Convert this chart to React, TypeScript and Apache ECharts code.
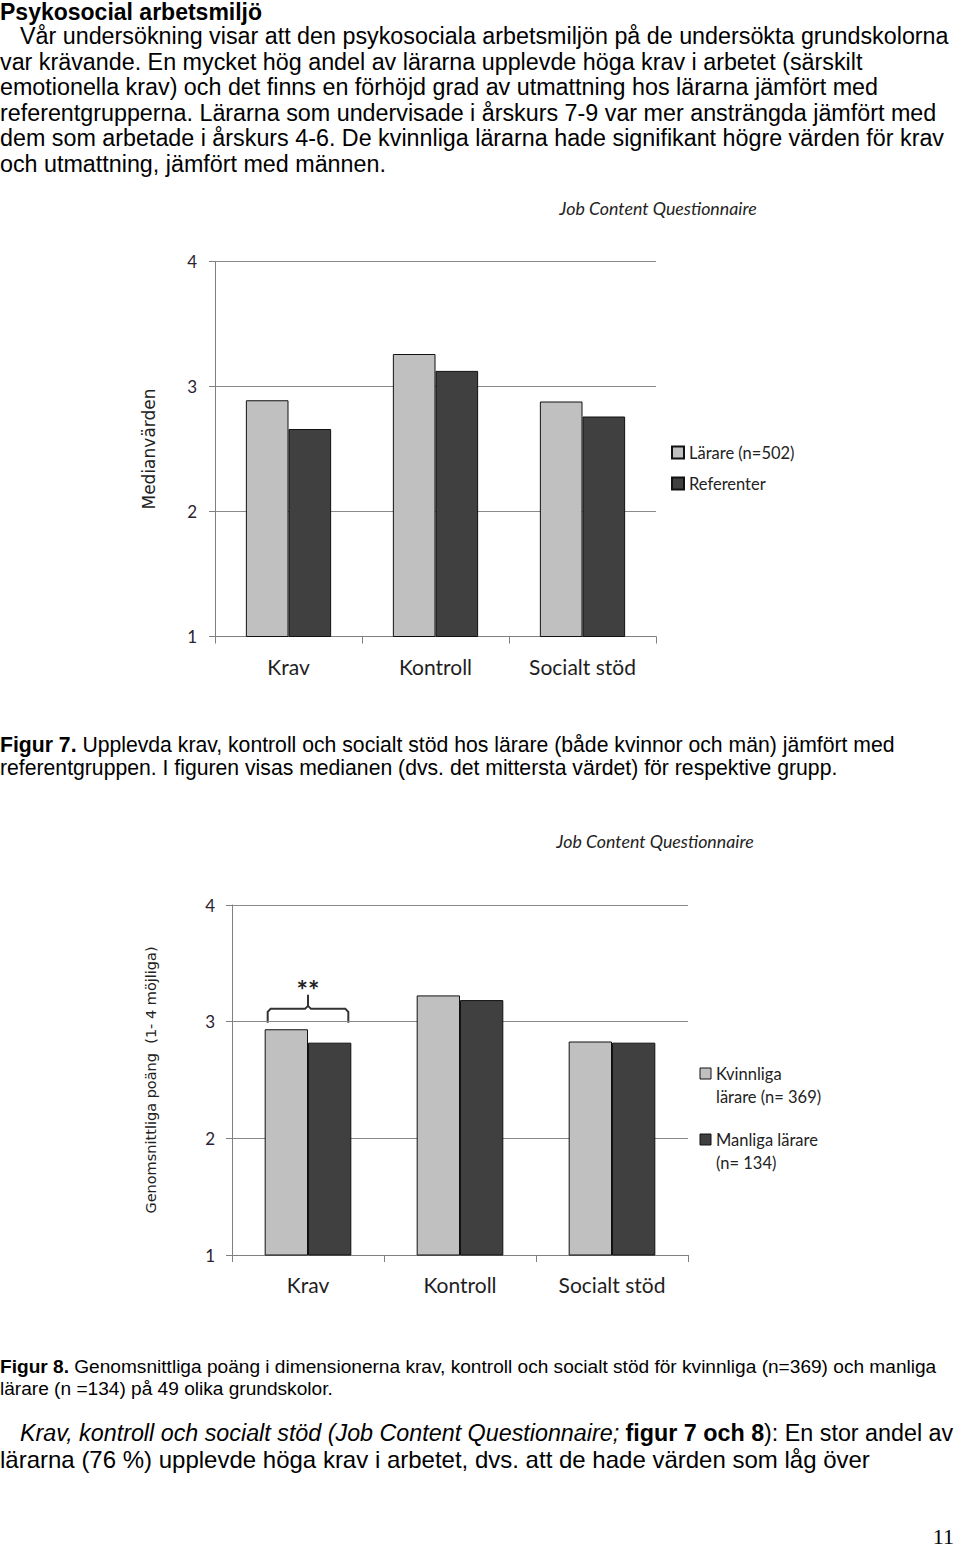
import React, { useEffect, useRef } from 'react';
import * as echarts from 'echarts';

const categories = ['Krav', 'Kontroll', 'Socialt stöd'];
const chartTitle = 'Job Content Questionnaire';

const fig7Names = ['Lärare (n=502)', 'Referenter'];
const fig7Larare = [2.89, 3.26, 2.88];
const fig7Referenter = [2.66, 3.125, 2.76];
const fig7YName = 'Medianvärden';

const fig8Names = ['Kvinnliga lärare (n= 369)', 'Manliga lärare (n= 134)'];
const fig8LegendLines = [['Kvinnliga', 'lärare (n= 369)'], ['Manliga lärare', '(n= 134)']];
const fig8Kvinnliga = [2.935, 3.225, 2.83];
const fig8Manliga = [2.82, 3.185, 2.82];
const fig8YName = 'Genomsnittliga poäng  (1- 4 möjliga)';

const yMin = 1;
const yMax = 4;
const yInterval = 1;

const headingText = 'Psykosocial arbetsmiljö';
const bodyLines = [
  'Vår undersökning visar att den psykosociala arbetsmiljön på de undersökta grundskolorna',
  'var krävande. En mycket hög andel av lärarna upplevde höga krav i arbetet (särskilt',
  'emotionella krav) och det finns en förhöjd grad av utmattning hos lärarna jämfört med',
  'referentgrupperna. Lärarna som undervisade i årskurs 7-9 var mer ansträngda jämfört med',
  'dem som arbetade i årskurs 4-6. De kvinnliga lärarna hade signifikant högre värden för krav',
  'och utmattning, jämfört med männen.',
];
const fig7Caption = [
  '{b|Figur 7.} Upplevda krav, kontroll och socialt stöd hos lärare (både kvinnor och män) jämfört med',
  'referentgruppen. I figuren visas medianen (dvs. det mittersta värdet) för respektive grupp.',
];
const fig8Caption = [
  '{b|Figur 8.} Genomsnittliga poäng i dimensionerna krav, kontroll och socialt stöd för kvinnliga (n=369) och manliga',
  'lärare (n =134) på 49 olika grundskolor.',
];
const finalLines = [
  '{i|Krav, kontroll och socialt stöd (Job Content Questionnaire;} {b|figur 7 och 8}): En stor andel av',
  'lärarna (76 %) upplevde höga krav i arbetet, dvs. att de hade värden som låg över',
];
const pageNumber = '11';

const LIGHT = '#c0c0c0';
const DARK = '#404040';
const AXIS = '#808080';
const DOC_FONT = '"Liberation Sans", Arial, sans-serif';
const CHART_FONT = 'Lato, "Open Sans", sans-serif';

function docText(x: number, y: number, text: string, size: number, extra: any = {}) {
  return {
    type: 'text',
    x,
    y,
    silent: true,
    style: {
      text,
      fontFamily: DOC_FONT,
      fontSize: size,
      fill: '#000',
      align: 'left',
      verticalAlign: 'middle',
      rich: {
        b: { fontFamily: DOC_FONT, fontSize: size, fontWeight: 'bold', fill: '#000' },
        i: { fontFamily: DOC_FONT, fontSize: size, fontStyle: 'italic', fill: '#000' },
      },
      ...extra,
    },
  };
}

function makeXAxis(gridIndex: number) {
  return {
    type: 'category',
    gridIndex,
    data: categories,
    axisLine: { show: true, lineStyle: { color: AXIS, width: 1 } },
    axisTick: { show: true, length: 7, alignWithLabel: false, lineStyle: { color: AXIS } },
    axisLabel: { fontFamily: CHART_FONT, fontSize: 21, color: '#1e1e1e', margin: 19 },
  };
}

function makeYAxis(gridIndex: number, name: string, nameGap: number, nameSize: number, margin: number) {
  return {
    type: 'value',
    gridIndex,
    min: yMin,
    max: yMax,
    interval: yInterval,
    name,
    nameLocation: 'middle',
    nameRotate: 90,
    nameGap,
    nameTextStyle: { fontFamily: '"DejaVu Sans", Verdana, sans-serif', fontSize: nameSize, color: '#222' },
    axisLine: { show: true, lineStyle: { color: AXIS, width: 1 } },
    axisTick: { show: true, length: 6, lineStyle: { color: AXIS } },
    splitLine: { show: true, lineStyle: { color: '#8a8a8a', width: 1 } },
    axisLabel: { fontFamily: CHART_FONT, fontSize: 17, color: '#2b2233', margin },
  };
}

function makeBar(name: string, data: number[], color: string, idx: number, gap: string) {
  return {
    type: 'bar',
    name,
    xAxisIndex: idx,
    yAxisIndex: idx,
    data,
    barGap: '0%',
    barCategoryGap: gap,
    itemStyle: { color, borderColor: '#111', borderWidth: 1 },
    emphasis: { disabled: true },
  };
}

export default function App() {
  const ref = useRef<HTMLDivElement>(null);

  useEffect(() => {
    if (!ref.current) return;
    const chart = echarts.init(ref.current, undefined, { renderer: 'svg' });

    const graphics: any[] = [];
    graphics.push(docText(0, 12, headingText, 23, { fontWeight: 'bold' }));
    const bodyY = [36, 62, 87, 113, 138, 164];
    bodyLines.forEach((l, i) => graphics.push(docText(i === 0 ? 20 : 0, bodyY[i], l, 23.3)));
    graphics.push(docText(0, 744, fig7Caption[0], 21.2));
    graphics.push(docText(0, 767, fig7Caption[1], 21.2));
    graphics.push(docText(0, 1366, fig8Caption[0], 19.1));
    graphics.push(docText(0, 1388, fig8Caption[1], 19.1));
    graphics.push(docText(20, 1433, finalLines[0], 23.3));
    graphics.push(docText(0, 1459, finalLines[1], 24));
    graphics.push({
      type: 'text', x: 954, y: 1536, silent: true,
      style: { text: pageNumber, fontFamily: '"Liberation Serif", "Times New Roman", serif', fontSize: 22, fill: '#000', align: 'right', verticalAlign: 'middle' },
    });

    // chart titles
    graphics.push({
      type: 'text', x: 658, y: 208, silent: true,
      style: { text: chartTitle, fontFamily: CHART_FONT, fontStyle: 'italic', fontSize: 17.8, fill: '#222', align: 'center', verticalAlign: 'middle' },
    });
    graphics.push({
      type: 'text', x: 655, y: 841, silent: true,
      style: { text: chartTitle, fontFamily: CHART_FONT, fontStyle: 'italic', fontSize: 17.8, fill: '#222', align: 'center', verticalAlign: 'middle' },
    });

    // figure 8 legend (two-line labels)
    const legY = [1074, 1140];
    const legColors = [LIGHT, DARK];
    fig8LegendLines.forEach((lines, i) => {
      graphics.push({
        type: 'rect', silent: true,
        shape: { x: 700, y: legY[i] - 6, width: 11, height: 11 },
        style: { fill: legColors[i], stroke: '#111', lineWidth: 1 },
      });
      lines.forEach((t, j) => {
        graphics.push({
          type: 'text', x: 716, y: legY[i] + j * 22.5, silent: true,
          style: { text: t, fontFamily: CHART_FONT, fontSize: 16.5, fill: '#222', align: 'left', verticalAlign: 'middle' },
        });
      });
    });

    const option: any = {
      animation: false,
      backgroundColor: '#ffffff',
      grid: [
        { left: 215, top: 261.5, width: 441, height: 375 },
        { left: 232, top: 905, width: 456, height: 350 },
      ],
      xAxis: [makeXAxis(0), makeXAxis(1)],
      yAxis: [
        makeYAxis(0, fig7YName, 58, 17, 18),
        makeYAxis(1, fig8YName, 74, 14.5, 17),
      ],
      legend: {
        data: fig7Names,
        orient: 'vertical',
        left: 671,
        top: 444,
        padding: 0,
        itemWidth: 12,
        itemHeight: 12,
        itemGap: 14,
        icon: 'rect',
        selectedMode: false,
        textStyle: { fontFamily: CHART_FONT, fontSize: 16.5, color: '#222' },
      },
      series: [
        makeBar(fig7Names[0], fig7Larare, LIGHT, 0, '42%'),
        makeBar(fig7Names[1], fig7Referenter, DARK, 0, '42%'),
        makeBar(fig8Names[0], fig8Kvinnliga, LIGHT, 1, '43%'),
        makeBar(fig8Names[1], fig8Manliga, DARK, 1, '43%'),
      ],
      graphic: graphics,
    };
    chart.setOption(option);

    // significance bracket over Krav in figure 8
    const finder = { xAxisIndex: 1, yAxisIndex: 1 };
    const p0 = chart.convertToPixel(finder, [0, 3]) as number[];
    const p1 = chart.convertToPixel(finder, [1, 3]) as number[];
    const band = p1[0] - p0[0];
    const half = (band * (1 - 0.43)) / 2 - 3;
    const cx = p0[0];
    const yAt = (v: number) => (chart.convertToPixel(finder, [0, v]) as number[])[1];
    const yb = yAt(2.99);
    const yh = yAt(3.11);
    const yp = yAt(3.23);
    const ys = yAt(3.31);
    const bracket = [
      {
        type: 'polyline', silent: true,
        shape: { points: [[cx - half, yb], [cx - half, yh + 3], [cx - half + 3, yh], [cx - 3, yh], [cx, yh - 3], [cx, yp]] },
        style: { stroke: '#333', lineWidth: 2, fill: null },
      },
      {
        type: 'polyline', silent: true,
        shape: { points: [[cx, yh - 3], [cx + 3, yh], [cx + half - 3, yh], [cx + half, yh + 3], [cx + half, yb]] },
        style: { stroke: '#333', lineWidth: 2, fill: null },
      },
      {
        type: 'text', x: cx, y: ys + 4, silent: true,
        style: { text: '**', fontFamily: CHART_FONT, fontWeight: 'bold', fontSize: 27, fill: '#222', align: 'center', verticalAlign: 'middle' },
      },
    ];
    chart.setOption({ graphic: [...graphics, ...bracket] });

    return () => chart.dispose();
  }, []);

  return (
    <div
      ref={ref}
      style={{ position: 'absolute', left: 0, top: 0, width: 960, height: 1550, background: '#fff' }}
    />
  );
}
